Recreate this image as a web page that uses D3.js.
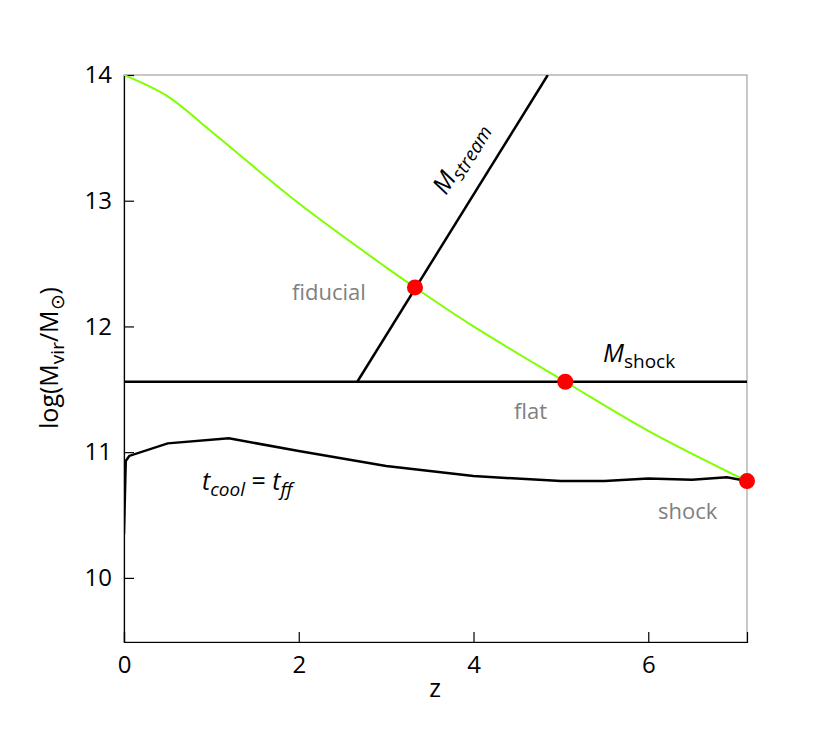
<!DOCTYPE html><html><head><meta charset="utf-8"><script src="https://cdn.jsdelivr.net/npm/d3@7"></script>
<style>body{margin:0;background:#fff}text{font-family:"Open Sans",sans-serif}</style></head><body><svg id="c" width="830" height="747"></svg>
<script>
const xTicks=[0,2,4,6], yTicks=[10,11,12,13,14];
const greenZ=[0,0.5,1,2,3,3.33,4,5.05,6,7.13];
const greenM=[14,13.83,13.55,12.98,12.47,12.31,12.0,11.56,11.17,10.77];
const coolZ=[0,0.02,0.06,0.5,1.2,2,3,4,5,5.5,6,6.5,6.9,7.13];
const coolM=[10.35,10.93,10.97,11.07,11.11,11.01,10.89,10.81,10.77,10.77,10.79,10.78,10.80,10.77];
const streamZ=[2.67,4.85], streamM=[11.56,14];
const shockM=11.56;
const dotZ=[3.33,5.05,7.13], dotM=[12.31,11.56,10.77];
const svg=d3.select("#c");
const x=d3.scaleLinear().domain([0,7.13]).range([124,747]);
const y=d3.scaleLinear().domain([9.49,14]).range([642,75]);
svg.append("rect").attr("x",124).attr("y",75).attr("width",623).attr("height",567).attr("fill","none").attr("stroke","#777").attr("stroke-width",0.8);
const ax=svg.append("g").attr("transform","translate(0,642)").call(d3.axisBottom(x).tickValues(xTicks).tickSize(-10).tickPadding(14).tickFormat(d3.format("d")));
const ay=svg.append("g").attr("transform","translate(124,0)").call(d3.axisLeft(y).tickValues(yTicks).tickSize(-10).tickPadding(12).tickFormat(d3.format("d")));
[ax,ay].forEach(a=>{a.attr("font-size",null).attr("font-family",null);a.select(".domain").attr("stroke","#000").attr("stroke-width",1.2);a.selectAll("line").attr("stroke-width",1.2);a.selectAll("text").style("font-size","24px").attr("fill","#000");});
const line=d3.line().x(d=>x(d[0])).y(d=>y(d[1]));
svg.append("clipPath").attr("id","cp").append("rect").attr("x",124).attr("y",75).attr("width",623).attr("height",567);
const g=svg.append("g").attr("clip-path","url(#cp)");
g.append("path").attr("fill","none").attr("stroke","#7fff00").attr("stroke-width",2).attr("d",d3.line().curve(d3.curveCatmullRom).x(d=>x(d[0])).y(d=>y(d[1]))(greenZ.map((z,i)=>[z,greenM[i]])));
g.append("path").attr("d",line(coolZ.map((z,i)=>[z,coolM[i]]))).attr("fill","none").attr("stroke","#000").attr("stroke-width",2.5);
g.append("path").attr("d",line(streamZ.map((z,i)=>[z,streamM[i]]))).attr("fill","none").attr("stroke","#000").attr("stroke-width",2.5);
g.append("path").attr("d",line([[0,shockM],[7.13,shockM]])).attr("fill","none").attr("stroke","#000").attr("stroke-width",2.5);
svg.selectAll("circle.d").data(dotZ).enter().append("circle").attr("cx",d=>x(d)).attr("cy",(d,i)=>y(dotM[i])).attr("r",8).attr("fill","#ff0000");
const t=(xx,yy,s)=>svg.append("text").attr("x",xx).attr("y",yy).style("font-size","22px").attr("fill","#808080").text(s);
t(292,300,"fiducial");t(514,419,"flat");t(658,519,"shock");
const ms=svg.append("text").attr("x",603).attr("y",362).style("font-size","25px").attr("fill","#000");
ms.append("tspan").attr("font-style","italic").text("M");ms.append("tspan").style("font-size","19px").attr("dy",6).text("shock");
const st=svg.append("text").attr("transform","translate(446,196) rotate(-58.5)").style("font-size","25px");
st.append("tspan").attr("font-style","italic").text("M");st.append("tspan").style("font-size","19px").attr("dy",6).attr("font-style","italic").text("stream");
const tc=svg.append("text").attr("x",202).attr("y",490).style("font-size","25px").attr("font-style","italic");
tc.append("tspan").text("t");tc.append("tspan").style("font-size","19px").attr("dy",6).text("cool");tc.append("tspan").attr("dy",-6).attr("font-style","normal").text(" = ");tc.append("tspan").text("t");tc.append("tspan").style("font-size","19px").attr("dy",6).text("ff");
svg.append("text").attr("x",435).attr("y",697).attr("text-anchor","middle").style("font-size","25px").text("z");
const yl=svg.append("text").attr("transform","translate(58,358) rotate(-90)").attr("text-anchor","middle").style("font-size","25px");
yl.append("tspan").text("log(M");yl.append("tspan").style("font-size","19px").attr("dy",6).text("vir");yl.append("tspan").attr("dy",-6).text("/M");yl.append("tspan").style("font-size","19px").attr("dy",6).text("⊙");yl.append("tspan").attr("dy",-6).text(")");
</script></body></html>
